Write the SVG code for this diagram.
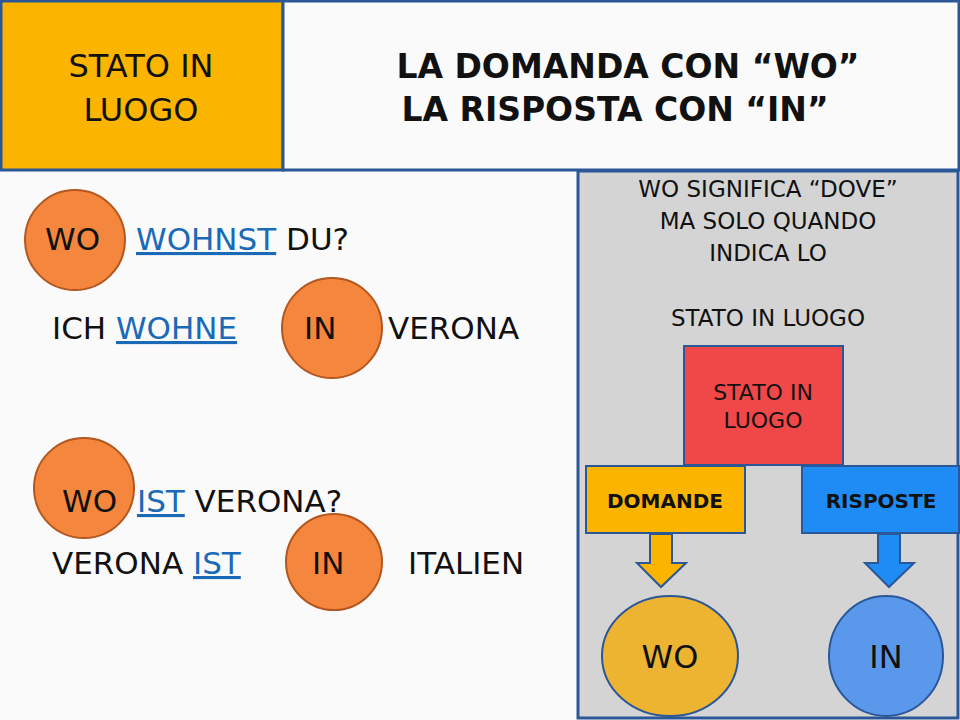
<svg xmlns="http://www.w3.org/2000/svg" width="960" height="720" viewBox="0 0 960 720">
<style>
text{font-family:"DejaVu Sans",Verdana,sans-serif;fill:#111}
.c{fill:#f4873d;stroke:#b4561f;stroke-width:2}
.l{font-size:31px}
.u{fill:#1a6ab8;text-decoration:underline}
.b{stroke:#2b5797;stroke-width:3}
</style>
<rect width="960" height="720" fill="#fafafa"/>
<g id="header">
<rect x="1" y="1" width="282" height="169" fill="#fbb400" class="b"/>
<rect x="283" y="1" width="676" height="169" fill="#fafafa" class="b"/>
<text x="141" y="77" font-size="32" text-anchor="middle" font-family="Liberation Sans Narrow,Liberation Sans,sans-serif">STATO IN</text>
<text x="141" y="121" font-size="32" text-anchor="middle">LUOGO</text>
<text x="628" y="78" font-size="33" font-weight="bold" text-anchor="middle">LA DOMANDA CON “WO”</text>
<text x="615" y="121" font-size="33" font-weight="bold" text-anchor="middle">LA RISPOSTA CON “IN”</text>
</g>
<g id="left">
<circle class="c" cx="75" cy="240" r="50"/>
<circle class="c" cx="332" cy="328" r="50"/>
<circle class="c" cx="84" cy="488" r="50"/>
<circle class="c" cx="334" cy="562" r="48"/>
<text class="l" x="45" y="250">WO</text>
<text class="l" x="136" y="250"><tspan class="u">WOHNST</tspan> DU?</text>
<text class="l" x="52" y="339">ICH <tspan class="u">WOHNE</tspan></text>
<text class="l" x="304" y="339">IN</text>
<text class="l" x="388" y="339">VERONA</text>
<text class="l" x="62" y="512">WO</text>
<text class="l" x="137" y="512"><tspan class="u">IST</tspan> VERONA?</text>
<text class="l" x="52" y="574">VERONA <tspan class="u">IST</tspan></text>
<text class="l" x="312" y="574">IN</text>
<text class="l" x="408" y="574">ITALIEN</text>
</g>
<g id="panel">
<rect x="578" y="171" width="380" height="547" fill="#d4d4d4" class="b"/>
<g font-size="23" text-anchor="middle">
<text x="768" y="197">WO SIGNIFICA “DOVE”</text>
<text x="768" y="229">MA SOLO QUANDO</text>
<text x="768" y="261">INDICA LO</text>
<text x="768" y="326">STATO IN LUOGO</text>
</g>
</g>
<g id="stato"><rect x="684" y="346" width="159" height="119" fill="#f04848" stroke="#2b5797" stroke-width="2"/>
<text x="763" y="400" font-size="22" text-anchor="middle">STATO IN</text>
<text x="763" y="428" font-size="22" text-anchor="middle">LUOGO</text></g>
<g id="domande"><rect x="586" y="466" width="159" height="67" fill="#fbb400" stroke="#2b5797" stroke-width="2"/>
<text x="665" y="508" font-size="20" font-weight="bold" text-anchor="middle">DOMANDE</text></g>
<g id="risposte"><rect x="802" y="466" width="157" height="67" fill="#1f8cf5" stroke="#2b5797" stroke-width="2"/>
<text x="881" y="508" font-size="20" font-weight="bold" text-anchor="middle">RISPOSTE</text></g>
<g id="connectors">
<path d="M650 534 V563 H637 L661 587 L686 563 H672 V534 Z" fill="#fbb400" stroke="#2b5797" stroke-width="2"/>
<path d="M878 534 V563 H865 L889 587 L914 563 H900 V534 Z" fill="#1f8cf5" stroke="#2b5797" stroke-width="2"/>
</g>
<g id="wo"><ellipse cx="670" cy="656" rx="68" ry="60" fill="#ecb430" stroke="#2b5797" stroke-width="2"/>
<text x="670" y="668" font-size="32" text-anchor="middle">WO</text></g>
<g id="in"><ellipse cx="886" cy="656" rx="57" ry="60" fill="#5a98ec" stroke="#2b5797" stroke-width="2"/>
<text x="886" y="668" font-size="32" text-anchor="middle">IN</text></g>
</svg>
